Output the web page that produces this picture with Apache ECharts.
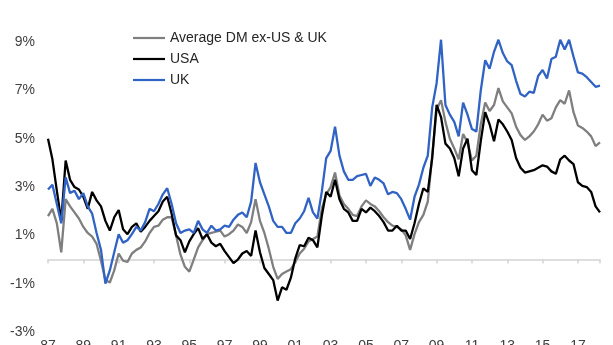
<!DOCTYPE html>
<html><head><meta charset="utf-8">
<script src="https://cdn.jsdelivr.net/npm/echarts@6/dist/echarts.min.js"></script>
<style>html,body{margin:0;padding:0;background:#fff}#c{width:613px;height:345px}</style>
</head><body><div id="c"></div>
<script>
// Quarterly samples starting Q1 1987 (x = years since 1987)
const stepYears = 0.25;
const tickLabels = ['87','89','91','93','95','97','99','01','03','05','07','09','11','13','15','17'];
const seriesNames = ['Average DM ex-US & UK', 'USA', 'UK'];

const avgDM = [1.8,2.1,1.5,0.3,2.5,2.2,1.95,1.7,1.35,1.1,
 0.95,0.65,-0.05,-0.85,-0.95,-0.45,0.25,-0.05,-0.1,0.25,
 0.4,0.5,0.75,1.1,1.35,1.4,1.65,1.75,1.75,1.0,
 0.2,-0.3,-0.5,0.0,0.5,0.8,1.05,1.1,1.15,1.2,
 0.95,1.05,1.2,1.45,1.35,1.1,1.55,2.5,1.6,1.1,
 0.45,-0.3,-0.8,-0.6,-0.5,-0.4,-0.1,0.25,0.45,0.75,
 0.85,0.95,2.1,2.7,3.0,3.6,2.65,2.3,2.1,1.85,
 1.8,2.2,2.45,2.3,2.2,2.0,1.75,1.55,1.4,1.35,
 1.25,1.0,0.4,1.05,1.55,1.85,2.4,4.3,6.2,6.6,
 5.7,5.0,4.6,4.15,5.2,4.85,4.1,4.3,5.6,6.5,
 6.15,6.4,7.1,6.55,6.3,6.05,5.5,5.15,4.95,5.1,
 5.3,5.6,6.0,5.75,5.85,6.3,6.6,6.45,7.0,6.1,
 5.55,5.45,5.3,5.1,4.7,4.85];

const usa = [5.0,4.15,2.85,1.6,4.1,3.3,3.0,2.9,2.6,2.1,
 2.8,2.45,2.2,1.6,1.2,1.75,2.05,1.25,1.05,1.35,
 1.5,1.15,1.35,1.6,1.8,2.0,2.4,2.6,1.9,1.0,
 0.8,0.3,0.75,1.05,1.3,0.85,1.05,0.7,0.55,0.65,
 0.35,0.1,-0.15,0.0,0.25,0.35,0.15,1.2,0.3,-0.35,
 -0.6,-0.85,-1.7,-1.15,-1.25,-0.75,0.05,0.6,0.55,0.9,
 0.8,0.5,1.8,2.8,2.6,3.3,2.5,2.1,1.95,1.6,
 1.6,2.1,1.95,2.15,2.0,1.8,1.55,1.2,1.2,1.4,
 1.2,1.2,0.85,1.5,2.3,2.95,2.8,4.2,6.4,5.9,
 4.8,4.6,4.2,3.45,4.6,5.0,3.7,3.5,4.9,6.1,
 5.6,4.9,5.8,5.6,5.3,4.95,4.2,3.8,3.6,3.65,
 3.7,3.8,3.9,3.85,3.65,3.55,4.15,4.3,4.1,3.95,
 3.2,3.05,3.0,2.8,2.2,1.95];

const uk = [2.9,3.1,2.3,1.5,3.4,2.75,2.85,2.5,2.75,2.2,
 1.9,1.1,0.4,-1.0,-0.45,0.3,1.05,0.7,0.8,1.05,
 1.35,1.2,1.55,2.1,2.0,2.3,2.7,2.95,2.3,1.5,
 1.1,1.2,1.25,1.1,1.6,1.25,1.1,1.4,1.2,1.25,
 1.4,1.35,1.65,1.85,1.95,1.75,2.4,4.0,3.2,2.7,
 2.2,1.6,1.35,1.35,1.1,1.1,1.5,1.7,2.0,2.55,
 1.95,1.7,2.8,4.2,4.5,5.5,4.3,3.65,3.3,3.3,
 3.45,3.5,3.55,3.05,3.4,3.3,3.15,2.7,2.8,2.75,
 2.5,2.1,1.65,2.6,3.1,3.8,4.3,6.3,7.3,9.1,
 6.4,6.0,5.7,5.1,6.5,6.0,5.4,5.3,7.0,8.25,
 7.9,8.6,9.1,8.55,8.2,8.05,7.4,6.85,6.75,6.95,
 6.9,7.6,7.85,7.5,8.3,8.4,9.1,8.7,9.1,8.4,
 7.75,7.7,7.55,7.35,7.15,7.2];

const colors = ['#7f7f7f', '#000000', '#3163c5'];
const toPts = arr => arr.map((v, i) => [i * stepYears, v]);
const xMax = (usa.length - 1) * stepYears;

const chart = echarts.init(document.getElementById('c'), null, {renderer: 'canvas'});
const font = 'Liberation Sans, Arial, sans-serif';
chart.setOption({
  animation: false,
  backgroundColor: '#ffffff',
  grid: {left: 48, right: 13, top: 18, bottom: 13, containLabel: false, outerBoundsMode: 'none'},
  legend: {
    orient: 'vertical', left: 128, top: 26,
    itemWidth: 32, itemHeight: 14, itemGap: 7,
    textStyle: {fontFamily: font, fontSize: 14, color: '#262626'},
    data: seriesNames.map(n => ({name: n, icon: 'path://M0,0 L32,0 L32,2.2 L0,2.2 Z'}))
  },
  xAxis: [{
    type: 'value', min: 0, max: xMax, interval: 2,
    axisLine: {show: true, onZero: true, lineStyle: {color: '#d4d4d4', width: 1.5}},
    axisTick: {show: true, length: 4, lineStyle: {color: '#d4d4d4', width: 1.5}},
    axisLabel: {show: false},
    splitLine: {show: false}
  }, {
    type: 'value', min: 0, max: xMax, interval: 2, position: 'bottom',
    axisLine: {show: false, onZero: false},
    axisTick: {show: false},
    splitLine: {show: false},
    axisLabel: {
      show: true, margin: 7, fontFamily: font, fontSize: 14, color: '#404040',
      formatter: v => { const k = Math.round(v / 2); return (Math.abs(v - 2 * k) < 1e-6 && k < tickLabels.length) ? tickLabels[k] : ''; }
    }
  }],
  yAxis: {
    type: 'value', min: -3, max: 10, interval: 2,
    axisLine: {show: false}, axisTick: {show: false}, splitLine: {show: false},
    axisLabel: {
      margin: 13, fontFamily: font, fontSize: 14, color: '#404040',
      formatter: v => (Math.abs(v - Math.round(v)) < 1e-6 && Math.abs(Math.round(v)) % 2 === 1) ? v + '%' : ''
    }
  },
  series: [avgDM, usa, uk].map((arr, k) => ({
    name: seriesNames[k], type: 'line', xAxisIndex: 0,
    data: toPts(arr), symbol: 'none', showSymbol: false,
    lineStyle: {color: colors[k], width: 2.3},
    itemStyle: {color: colors[k]},
    z: 2 + k
  }))
});
</script></body></html>
